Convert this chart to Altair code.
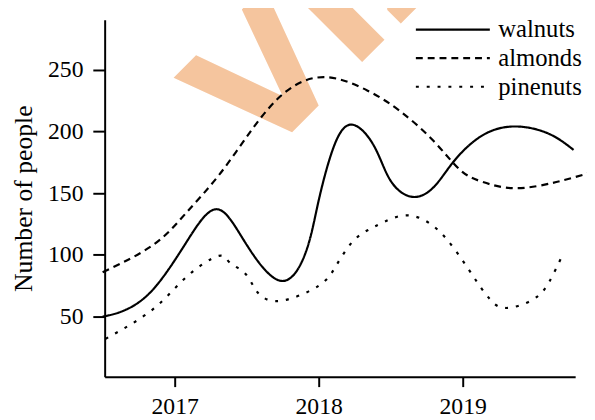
import altair as alt
import pandas as pd

series_names = ["walnuts", "almonds", "pinenuts"]

walnuts_x = [2016.5, 2016.65, 2016.85, 2017.08, 2017.29, 2017.49, 2017.735, 2017.91, 2018.0,
             2018.12, 2018.25, 2018.39, 2018.5, 2018.65, 2018.8, 2018.94, 2019.14, 2019.37,
             2019.6, 2019.77]
walnuts_y = [50, 55, 72, 110, 137, 110, 79, 102, 144,
             192, 205, 187, 160, 147, 155, 176, 197, 204,
             198, 185]

almonds_x = [2016.5, 2016.85, 2017.08, 2017.31, 2017.54, 2017.77, 2018.045, 2018.34, 2018.57,
             2018.8, 2018.98, 2019.14, 2019.37, 2019.65, 2019.87]
almonds_y = [86, 108, 134, 165, 202, 232, 244, 233, 216,
             192, 169, 159, 154, 159, 166]

pinenuts_x = [2016.52, 2016.85, 2017.08, 2017.3, 2017.38, 2017.48, 2017.55, 2017.61, 2017.75,
              2018.0, 2018.12, 2018.23, 2018.34, 2018.46, 2018.62, 2018.8, 2018.96, 2019.1,
              2019.19, 2019.3, 2019.49, 2019.6, 2019.69]
pinenuts_y = [32, 56, 82, 99, 94, 86, 74, 66, 63,
              75, 91, 110, 120, 127, 132, 123, 102, 78,
              64, 57, 64, 78, 99]

x_ticks = [2017, 2018, 2019]
y_ticks = [50, 100, 150, 200, 250]
watermark_text = ["VIZ"]

rows = []
for name, xs, ys in [("walnuts", walnuts_x, walnuts_y),
                     ("almonds", almonds_x, almonds_y),
                     ("pinenuts", pinenuts_x, pinenuts_y)]:
    for i, (xv, yv) in enumerate(zip(xs, ys)):
        rows.append({"series": name, "year": xv, "people": yv, "order": i})
df = pd.DataFrame(rows)

SERIF = "Liberation Serif"

watermark = alt.Chart(pd.DataFrame({"t": watermark_text})).mark_text(
    font="DejaVu Sans", fontWeight="bold", fontSize=170, angle=315,
    align="left", baseline="alphabetic", color="#F5C59E"
).encode(text="t:N", x=alt.value(157), y=alt.value(147))

lines = alt.Chart(df).mark_line(
    interpolate="natural", strokeWidth=2.2, color="black", clip=False
).encode(
    x=alt.X("year:Q",
            scale=alt.Scale(domain=[2016.514, 2019.781], nice=False, zero=False),
            axis=alt.Axis(values=x_ticks, format="d", title=None, grid=False,
                          tickSize=10, tickWidth=2, domainWidth=2,
                          domainColor="black", tickColor="black",
                          labelFont=SERIF, labelFontSize=24, labelColor="black",
                          labelPadding=8)),
    y=alt.Y("people:Q",
            scale=alt.Scale(domain=[1.3, 290.5], nice=False, zero=False),
            axis=alt.Axis(values=y_ticks, title="Number of people", grid=False,
                          tickSize=12, tickWidth=2, domainWidth=2,
                          domainColor="black", tickColor="black",
                          labelFont=SERIF, labelFontSize=24, labelColor="black",
                          labelPadding=10, titleFont=SERIF, titleFontSize=26,
                          titleFontWeight="normal", titleColor="black",
                          titlePadding=11)),
    strokeDash=alt.StrokeDash("series:N",
                              scale=alt.Scale(domain=series_names,
                                              range=[[1, 0], [7, 5], [3, 8]]),
                              legend=alt.Legend(title=None, orient="none",
                                                legendX=314, legendY=-2,
                                                symbolType="stroke", symbolSize=5625,
                                                symbolStrokeWidth=2.2,
                                                symbolStrokeColor="black",
                                                clipHeight=24, rowPadding=4,
                                                labelOffset=7, padding=0,
                                                labelFont=SERIF, labelFontSize=25,
                                                labelColor="black")),
    order="order:Q",
    detail="series:N",
)

chart = alt.layer(watermark, lines).properties(
    width=477, height=362,
    autosize=alt.AutoSizeParams(type="none"),
    padding={"left": 98, "top": 9, "right": 12, "bottom": 40},
    background="white",
).configure_view(stroke=None)

chart.save("out.html", embed_options={"renderer": "svg", "actions": False})
